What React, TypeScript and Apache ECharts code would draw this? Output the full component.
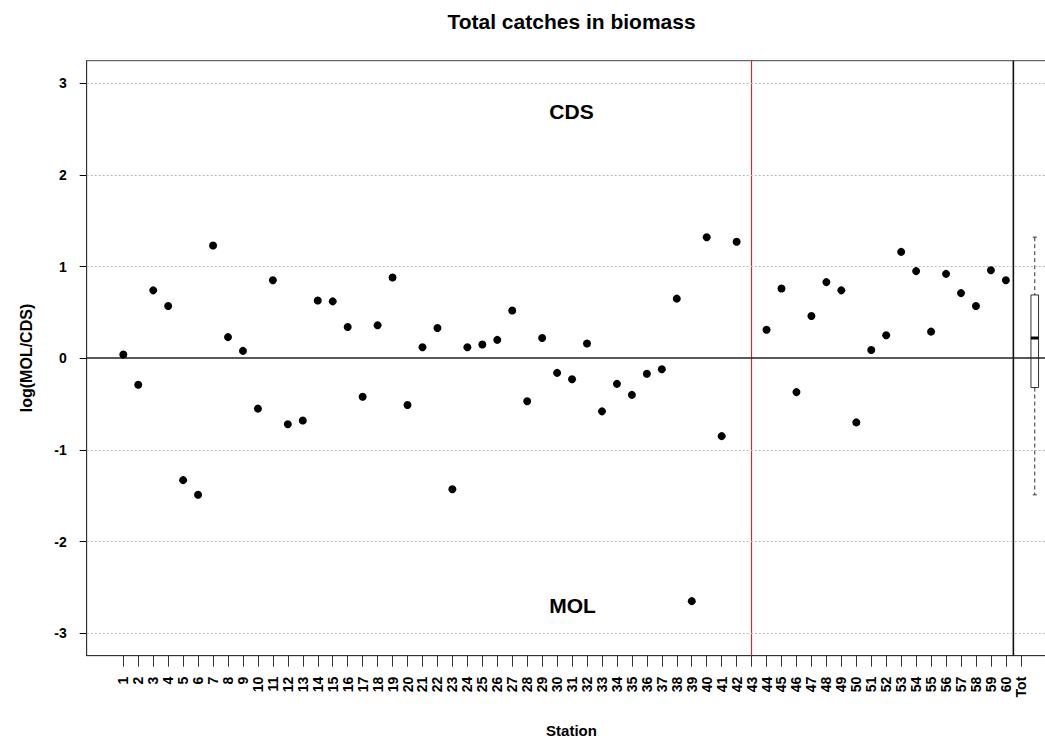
import { useEffect, useRef } from 'react';
import * as echarts from 'echarts';

// Station numbers along the x axis
const stations = [
  1, 2, 3, 4, 5, 6, 7, 8, 9, 10, 11, 12, 13, 14, 15, 16, 17, 18, 19, 20,
  21, 22, 23, 24, 25, 26, 27, 28, 29, 30, 31, 32, 33, 34, 35, 36, 37, 38, 39, 40,
  41, 42, 43, 44, 45, 46, 47, 48, 49, 50, 51, 52, 53, 54, 55, 56, 57, 58, 59, 60,
];

// log(MOL/CDS) of total catches in biomass, one value per station (43 has none)
const logRatio = [
  0.04, -0.29, 0.74, 0.57, -1.33, -1.49, 1.23, 0.23, 0.08, -0.55,
  0.85, -0.72, -0.68, 0.63, 0.62, 0.34, -0.42, 0.36, 0.88, -0.51,
  0.12, 0.33, -1.43, 0.12, 0.15, 0.2, 0.52, -0.47, 0.22, -0.16,
  -0.23, 0.16, -0.58, -0.28, -0.4, -0.17, -0.12, 0.65, -2.65, 1.32,
  -0.85, 1.27, null, 0.31, 0.76, -0.37, 0.46, 0.83, 0.74, -0.7,
  0.09, 0.25, 1.16, 0.95, 0.29, 0.92, 0.71, 0.57, 0.96, 0.85,
];

// Tick positions and labels of the station axis (61 = overall "Tot")
const tickValues = [...stations, 61];
const tickLabels = [...stations.map(String), 'Tot'];

// Overall boxplot: [position, lower whisker, Q1, median, Q3, upper whisker]
const totalBox = [61.93, -1.49, -0.32, 0.22, 0.69, 1.32];
const totalOutliers = [[61.93, -2.65]];

// Axis range and reference lines
const yMin = -3.245;
const yMax = 3.245;
const yTicks = [-3, -2, -1, 0, 1, 2, 3];
const yGrid = [-3, -2, -1, 1, 2, 3];
const regionSplit = 43;
const totalDivider = 60.5;

const FONT = '"Liberation Sans", Arial, Helvetica, sans-serif';

// A series that only carries straight reference lines
function refLine(data: any[], color: string, width: number, z: number, type: any = 'solid') {
  return {
    type: 'line',
    data: [],
    z,
    silent: true,
    color,
    markLine: {
      silent: true,
      symbol: ['none', 'none'],
      label: { show: false },
      emphasis: { disabled: true },
      lineStyle: { color, width, type, opacity: 1 },
      data,
    },
  };
}

// A vertical line spanning the whole value range at station position x
function verticalLine(x: number, color: string, width: number, z: number) {
  return {
    type: 'line',
    z,
    silent: true,
    symbol: 'none',
    color,
    lineStyle: { color, width, type: 'solid', opacity: 1 },
    itemStyle: { color },
    emphasis: { disabled: true },
    data: [
      [x, yMin],
      [x, yMax],
    ],
  };
}

export default function App() {
  const ref = useRef<HTMLDivElement>(null);

  useEffect(() => {
    if (!ref.current) return;
    const chart = echarts.init(ref.current, undefined, { renderer: 'svg' });

    const points = stations
      .map((s, i) => [s, logRatio[i]])
      .filter((p) => p[1] !== null);

    const option: any = {
      animation: false,
      backgroundColor: '#ffffff',
      title: {
        text: 'Total catches in biomass',
        left: 571.5,
        top: 11,
        padding: 0,
        textAlign: 'center',
        textStyle: { fontFamily: FONT, fontSize: 21, fontWeight: 'bold', color: '#000' },
      },
      grid: {
        left: 86.7,
        top: 60.7,
        right: -11,
        bottom: 84.3,
        show: true,
        borderColor: '#444',
        borderWidth: 1,
        backgroundColor: 'transparent',
        outerBoundsMode: 'none',
      },
      xAxis: {
        type: 'value',
        min: -1.446,
        max: 63.35,
        axisLine: { show: true, onZero: false, lineStyle: { color: '#333', width: 1 } },
        axisTick: {
          show: true,
          length: 11,
          customValues: tickValues,
          lineStyle: { color: '#333', width: 1 },
        },
        axisLabel: {
          show: true,
          customValues: tickValues,
          rotate: 90,
          margin: 21,
          fontFamily: FONT,
          fontSize: 14,
          fontWeight: 'bold',
          color: '#000',
          formatter: (v: number) => tickLabels[tickValues.indexOf(v)] ?? '',
        },
        splitLine: { show: false },
      },
      yAxis: {
        type: 'value',
        min: yMin,
        max: yMax,
        axisLine: { show: true, onZero: false, lineStyle: { color: '#333', width: 1 } },
        axisTick: {
          show: true,
          length: 7,
          customValues: yTicks,
          lineStyle: { color: '#000', width: 1 },
        },
        axisLabel: {
          show: true,
          customValues: yTicks,
          margin: 20,
          fontFamily: FONT,
          fontSize: 14,
          fontWeight: 'bold',
          color: '#000',
        },
        splitLine: { show: false },
      },
      graphic: [
        {
          type: 'text',
          x: 26,
          y: 358,
          rotation: Math.PI / 2,
          style: {
            text: 'log(MOL/CDS)',
            font: `bold 16px ${FONT}`,
            fill: '#000',
            align: 'center',
            verticalAlign: 'middle',
          },
        },
        {
          type: 'text',
          x: 571.5,
          y: 730,
          style: {
            text: 'Station',
            font: `bold 15px ${FONT}`,
            fill: '#000',
            align: 'center',
            verticalAlign: 'middle',
          },
        },
        {
          type: 'text',
          x: 571.5,
          y: 111,
          style: {
            text: 'CDS',
            font: `bold 21px ${FONT}`,
            fill: '#000',
            align: 'center',
            verticalAlign: 'middle',
          },
        },
        {
          type: 'text',
          x: 572.5,
          y: 605.5,
          style: {
            text: 'MOL',
            font: `bold 21px ${FONT}`,
            fill: '#000',
            align: 'center',
            verticalAlign: 'middle',
          },
        },
      ],
      series: [
        // dotted horizontal grid lines
        refLine(yGrid.map((v) => ({ yAxis: v })), '#b8b8b8', 1, 1, [2, 2]),
        // zero line
        refLine([{ yAxis: 0 }], '#222222', 1.6, 2),
        // split between the two station groups
        verticalLine(regionSplit, '#ff0000', 1, 3),
        // divider before the overall boxplot
        verticalLine(totalDivider, '#111111', 1.6, 3),
        {
          type: 'scatter',
          z: 5,
          symbol: 'circle',
          symbolSize: 8,
          itemStyle: { color: '#000', opacity: 1 },
          data: points,
        },
        {
          type: 'custom',
          z: 4,
          encode: { x: 0, y: [1, 2, 3, 4, 5] },
          data: [totalBox],
          renderItem: (_params: any, api: any) => {
            const x = api.value(0);
            const lo = api.coord([x, api.value(1)]);
            const q1 = api.coord([x, api.value(2)]);
            const md = api.coord([x, api.value(3)]);
            const q3 = api.coord([x, api.value(4)]);
            const hi = api.coord([x, api.value(5)]);
            const hw = 3.8;
            const cap = 2;
            const whisker = { stroke: '#333', lineWidth: 1, lineDash: [4, 3] };
            const solid = { stroke: '#333', lineWidth: 1 };
            return {
              type: 'group',
              children: [
                { type: 'line', shape: { x1: hi[0], y1: hi[1], x2: q3[0], y2: q3[1] }, style: whisker },
                { type: 'line', shape: { x1: q1[0], y1: q1[1], x2: lo[0], y2: lo[1] }, style: whisker },
                { type: 'line', shape: { x1: hi[0] - cap, y1: hi[1], x2: hi[0] + cap, y2: hi[1] }, style: solid },
                { type: 'line', shape: { x1: lo[0] - cap, y1: lo[1], x2: lo[0] + cap, y2: lo[1] }, style: solid },
                {
                  type: 'rect',
                  shape: { x: q3[0] - hw, y: q3[1], width: hw * 2, height: q1[1] - q3[1] },
                  style: { fill: '#fff', stroke: '#333', lineWidth: 1 },
                },
                {
                  type: 'line',
                  shape: { x1: md[0] - hw, y1: md[1], x2: md[0] + hw, y2: md[1] },
                  style: { stroke: '#000', lineWidth: 3 },
                },
              ],
            };
          },
        },
        {
          type: 'scatter',
          z: 5,
          symbol: 'emptyCircle',
          symbolSize: 7,
          itemStyle: { color: '#fff', borderColor: '#000', borderWidth: 1 },
          data: totalOutliers,
        },
      ],
    };

    chart.setOption(option);
    return () => chart.dispose();
  }, []);

  return (
    <div
      ref={ref}
      style={{ position: 'absolute', left: 0, top: 0, width: 1045, height: 740 }}
    />
  );
}
